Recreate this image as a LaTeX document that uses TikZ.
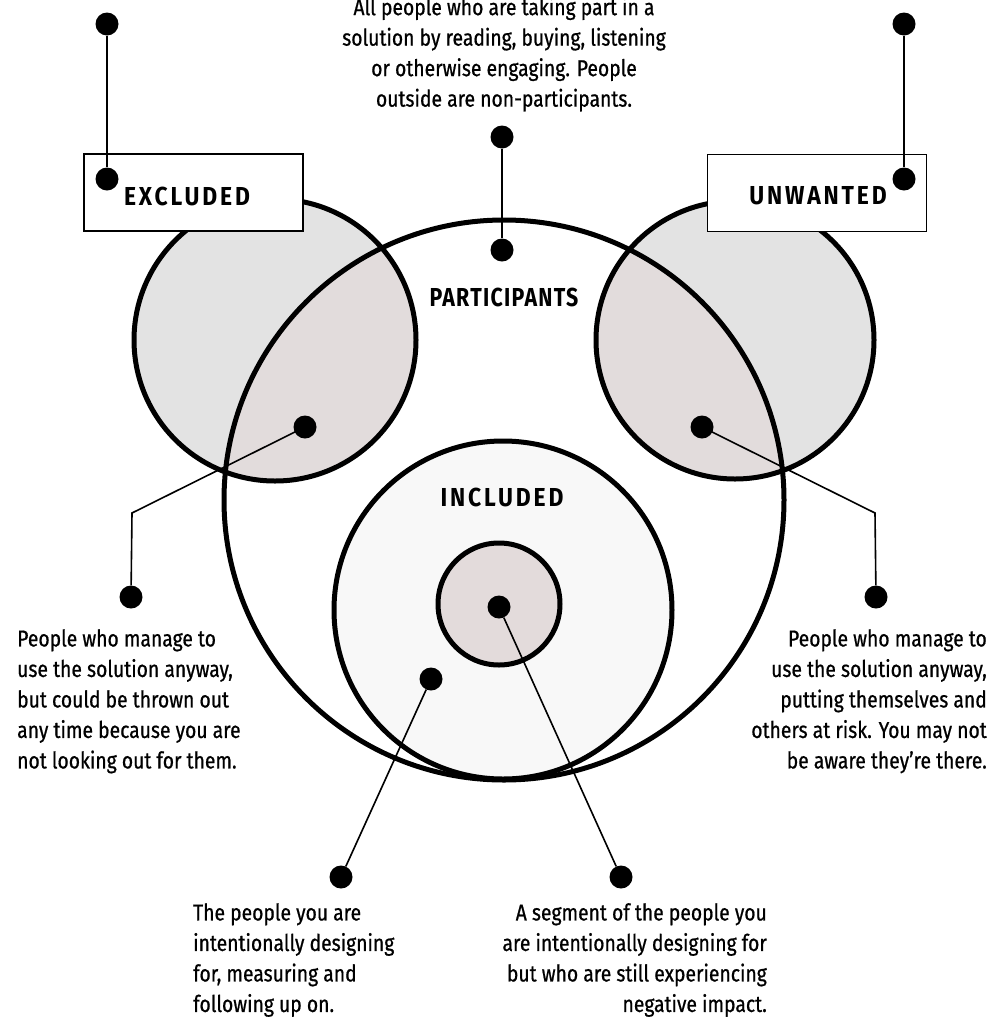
\documentclass[tikz,border=0pt]{standalone}
\usepackage{fontspec}
\setmainfont{Fira Sans}[FakeStretch=0.84,FakeBold=0.7]
\newfontfamily\lblfont{Fira Sans}[FakeStretch=0.88,LetterSpace=11]
\newfontfamily\lblfontN{Fira Sans}[FakeStretch=0.82,LetterSpace=5]
\definecolor{outergray}{HTML}{E3E3E3}
\definecolor{overlap}{HTML}{E2DCDC}
\definecolor{inclfill}{HTML}{F8F8F8}
\definecolor{innerfill}{HTML}{E3DBDB}
\tikzset{
  ring/.style={line width=5pt, draw=black},
  conn/.style={line width=1.6pt, draw=black},
  dot/.style={circle, fill=black, inner sep=0pt, minimum size=23pt},
  body/.style={inner sep=0pt, font=\fontsize{23}{30.5}\selectfont},
  lbl/.style={inner sep=0pt, font=\lblfont\bfseries\fontsize{26}{30}\selectfont},
  lbln/.style={inner sep=0pt, font=\lblfontN\bfseries\fontsize{26}{30}\selectfont},
  lblbox/.style={draw=black, line width=1.6pt, fill=white, minimum width=219pt, minimum height=77pt, inner sep=0pt}
}
\begin{document}
\begin{tikzpicture}[x=1pt,y=-1pt]
\useasboundingbox[fill=white] (0,0) rectangle (993,1021);
% centres
\coordinate (cP) at (504,500);
\coordinate (cE) at (275,340);
\coordinate (cU) at (735,340);
\coordinate (cI) at (503,610);
\coordinate (cN) at (499,604);
% fills
\fill[outergray] (cE) circle[radius=141];
\fill[outergray] (cU) circle[radius=139];
\fill[white] (cP) circle[radius=280];
\begin{scope}
  \clip (cP) circle[radius=280];
  \fill[overlap] (cE) circle[radius=141];
  \fill[overlap] (cU) circle[radius=139];
\end{scope}
\fill[inclfill] (cI) circle[radius=169];
\fill[innerfill] (cN) circle[radius=61];
% outlines
\draw[ring] (cE) circle[radius=141];
\draw[ring] (cU) circle[radius=139];
\draw[ring] (cP) circle[radius=280];
\draw[ring] (cI) circle[radius=169];
\draw[ring] (cN) circle[radius=61];
% label boxes
\node[lblbox] (boxE) at (193.5,192.5) {};
\node[lblbox] (boxU) at (817,193) {};
\node[lbl] (tE) at (187,196) {EXCLUDED};
\node[lbl] (tU) at (818,196) {UNWANTED};
\node[lbln] (tP) at (504,297) {PARTICIPANTS};
\node[lbl] (tI) at (502,497) {INCLUDED};
% dots
\node[dot] (dE1) at (107,24) {};
\node[dot] (dE2) at (107,179) {};
\node[dot] (dU1) at (904,24) {};
\node[dot] (dU2) at (904,179) {};
\node[dot] (dP1) at (502,137) {};
\node[dot] (dP2) at (502,250) {};
\node[dot] (dL1) at (305,427) {};
\coordinate (bL) at (132,513);
\node[dot] (dL2) at (131,597) {};
\node[dot] (dR1) at (702,427) {};
\coordinate (bR) at (875,513);
\node[dot] (dR2) at (876,597) {};
\node[dot] (dI1) at (431,679) {};
\node[dot] (dI2) at (341,877) {};
\node[dot] (dN1) at (499,607) {};
\node[dot] (dN2) at (621,877) {};
% connectors
\draw[conn] (dE1) -- (dE2);
\draw[conn] (dU1) -- (dU2);
\draw[conn] (dP1) -- (dP2);
\draw[conn] (dL1.center) -- (bL) -- (dL2);
\draw[conn] (dR1.center) -- (bR) -- (dR2);
\draw[conn] (dI1) -- (dI2);
\draw[conn] (dN1) -- (dN2);
% texts
\node[body, align=center, anchor=north] (txtP) at (504,-3) {All people who are taking part in a\\solution by reading, buying, listening\\or otherwise engaging. People\\outside are non-participants.};
\node[body, align=left, anchor=north west] (txtL) at (17,629) {People who manage to\\use the solution anyway,\\but could be thrown out\\any time because you are\\not looking out for them.};
\node[body, align=right, anchor=north east] (txtR) at (987,629) {People who manage to\\use the solution anyway,\\putting themselves and\\others at risk. You may not\\be aware they’re there.};
\node[body, align=left, anchor=north west] (txtI) at (193,903) {The people you are\\intentionally designing\\for, measuring and\\following up on.};
\node[body, align=right, anchor=north east] (txtN) at (767,903) {A segment of the people you\\are intentionally designing for\\but who are still experiencing\\negative impact.};
\end{tikzpicture}
\end{document}
